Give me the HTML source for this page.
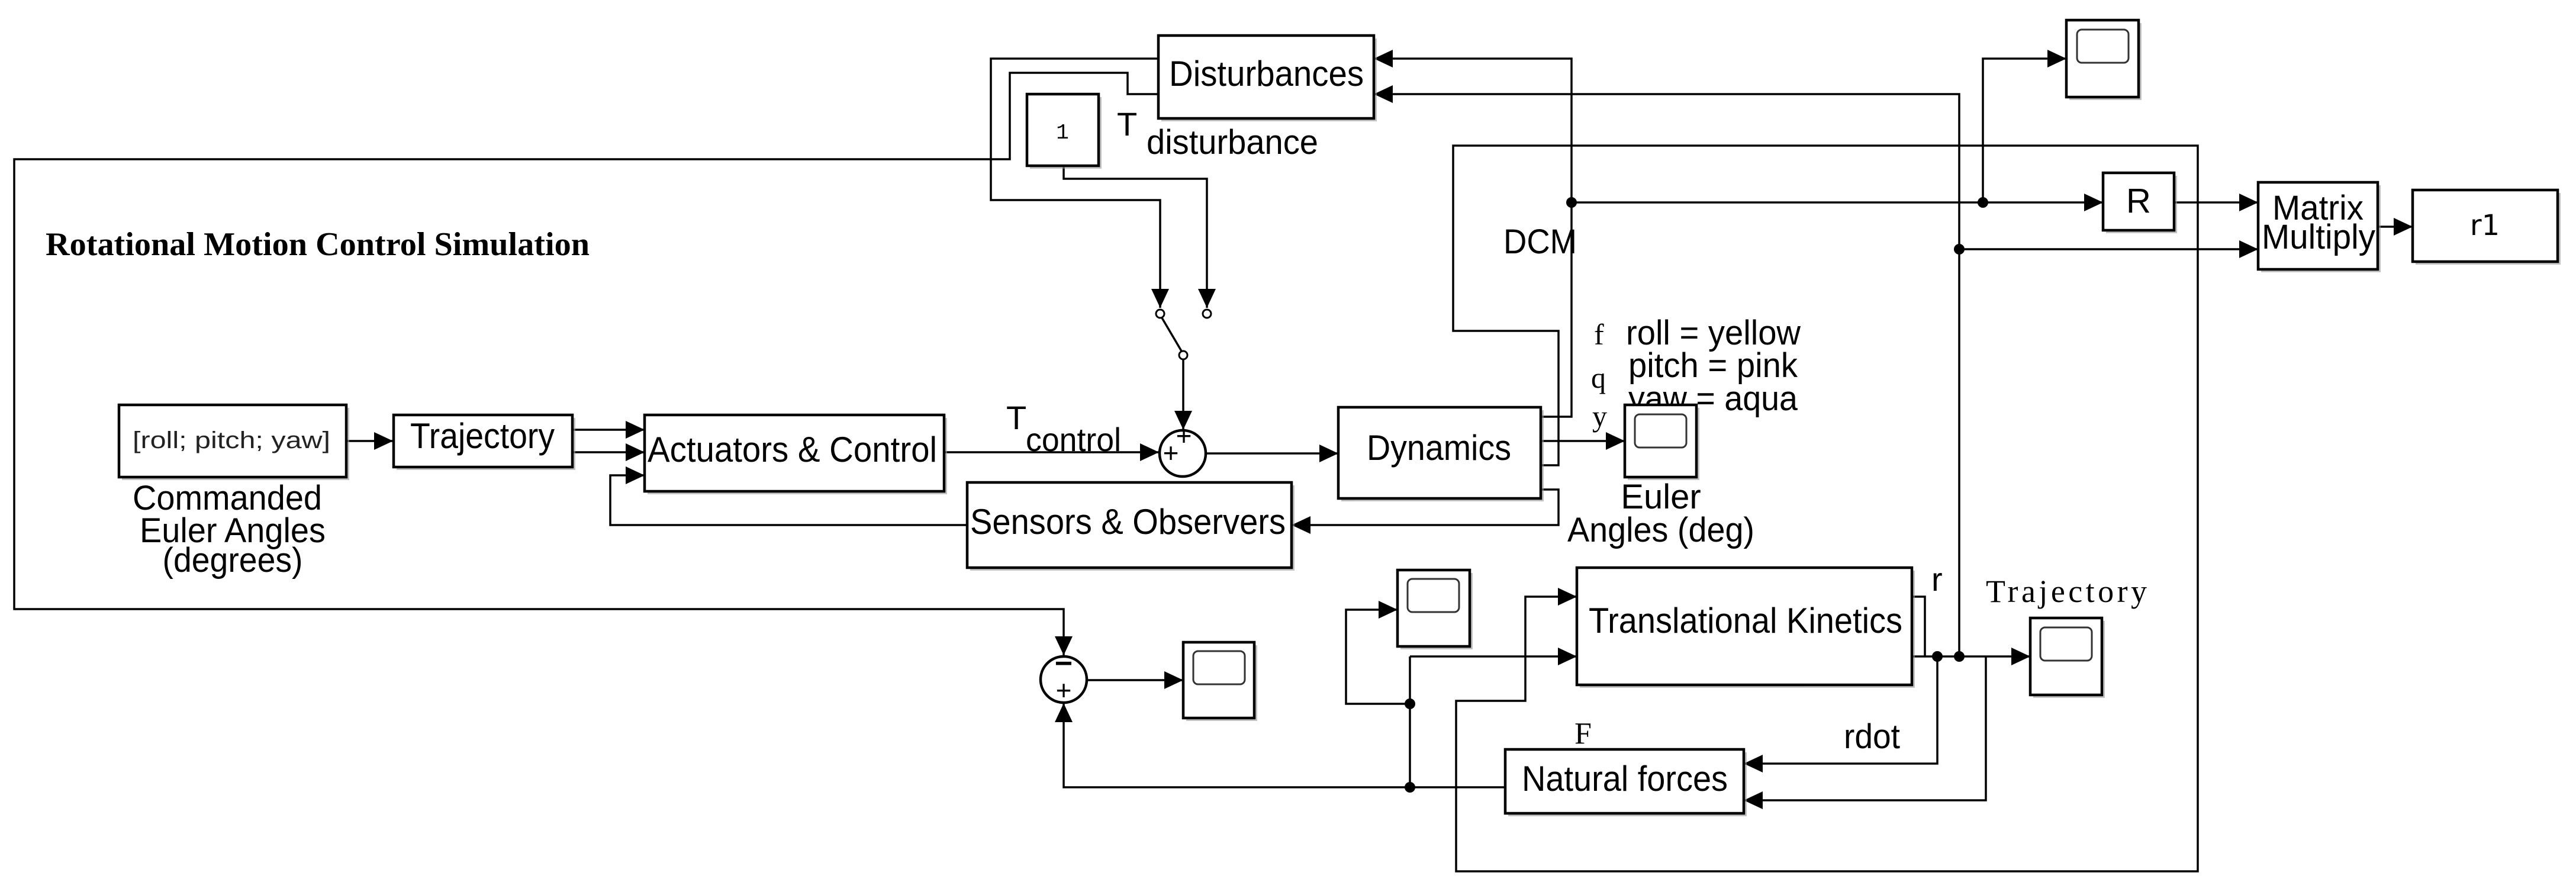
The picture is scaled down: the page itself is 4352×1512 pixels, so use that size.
<!DOCTYPE html>
<html><head><meta charset="utf-8"><style>html,body{margin:0;padding:0;background:#fff}svg{display:block}</style></head>
<body>
<svg width="4352" height="1512" viewBox="0 0 4352 1512" xmlns="http://www.w3.org/2000/svg" font-family="Liberation Sans, sans-serif">
<defs>
<marker id="A" markerWidth="36" markerHeight="36" refX="32" refY="17" orient="auto" markerUnits="userSpaceOnUse">
<path d="M0,2 L32,17 L0,32 z" fill="#000"/>
</marker>
</defs>
<rect width="4352" height="1512" fill="#fff"/>
<g fill="none" stroke="#000" stroke-width="3.5">
<polyline points="1957,99 1674,99 1674,338 1960,338 1960,520" marker-end="url(#A)"/>
<polyline points="1797,280 1797,302 2039,302 2039,520" marker-end="url(#A)"/>
<polyline points="1957,159 1905,159 1905,123 1706,123 1706,269 24,269 24,1029 1797,1029 1797,1107" marker-end="url(#A)"/>
<polyline points="1999,607 1999,726" marker-end="url(#A)"/>
<line x1="1963" y1="537" x2="1996" y2="593"/>
<polyline points="585,745 664,745" marker-end="url(#A)"/>
<polyline points="967,726 1089,726" marker-end="url(#A)"/>
<polyline points="967,764 1089,764" marker-end="url(#A)"/>
<polyline points="1634,887 1031,887 1031,803 1089,803" marker-end="url(#A)"/>
<polyline points="1595,764 1958,764" marker-end="url(#A)"/>
<polyline points="2037,766 2261,766" marker-end="url(#A)"/>
<polyline points="2603,704 2655,704 2655,99 2321,99" marker-end="url(#A)"/>
<polyline points="2655,342 3553,342" marker-end="url(#A)"/>
<polyline points="3350,342 3350,99 3491,99" marker-end="url(#A)"/>
<polyline points="2603,745 2745,745" marker-end="url(#A)"/>
<polyline points="2603,786 2633,786 2633,559 2455,559 2455,246 3713,246 3713,1472 2460,1472 2460,1184 2577,1184 2577,1008 2664,1008" marker-end="url(#A)"/>
<polyline points="2603,827 2633,827 2633,887 2182,887" marker-end="url(#A)"/>
<polyline points="3673,342 3815,342" marker-end="url(#A)"/>
<polyline points="4017,383 4076,383" marker-end="url(#A)"/>
<polyline points="3310,1109 3310,159 2321,159" marker-end="url(#A)"/>
<polyline points="3310,421 3815,421" marker-end="url(#A)"/>
<polyline points="3230,1008 3252,1008 3252,1109"/>
<polyline points="3230,1109 3430,1109" marker-end="url(#A)"/>
<polyline points="3273,1109 3273,1290 2946,1290" marker-end="url(#A)"/>
<polyline points="3355,1109 3355,1352 2946,1352" marker-end="url(#A)"/>
<polyline points="2382,1109 2664,1109" marker-end="url(#A)"/>
<line x1="2382" y1="1109" x2="2382" y2="1330"/>
<polyline points="2382,1189 2274,1189 2274,1030 2361,1030" marker-end="url(#A)"/>
<polyline points="2543,1330 1797,1330 1797,1188" marker-end="url(#A)"/>
<polyline points="1837,1149 1999,1149" marker-end="url(#A)"/>
</g>
<g fill="#000">
<circle cx="2655" cy="342" r="9"/><circle cx="3350" cy="342" r="9"/><circle cx="3310" cy="421" r="9"/>
<circle cx="3310" cy="1109" r="9"/><circle cx="3273" cy="1109" r="9"/><circle cx="2382" cy="1189" r="9"/><circle cx="2382" cy="1330" r="9"/>
</g>
<g fill="#fff" stroke="#000" stroke-width="3">
<circle cx="1960" cy="530" r="7"/><circle cx="2039" cy="530" r="7"/><circle cx="1999" cy="600" r="7"/>
</g>
<g fill="#999" opacity="0.6">
<rect x="1962" y="65" width="364" height="140"/>
<rect x="1740" y="164" width="121" height="121"/>
<rect x="206" y="689" width="384" height="122"/>
<rect x="670" y="706" width="302" height="88"/>
<rect x="1094" y="706" width="506" height="129"/>
<rect x="1639" y="820" width="548" height="144"/>
<rect x="2266" y="693" width="342" height="154"/>
<rect x="3558" y="297" width="120" height="97"/>
<rect x="3820" y="313" width="202" height="147"/>
<rect x="4081" y="326" width="245" height="121"/>
<rect x="2669" y="964" width="566" height="198"/>
<rect x="2548" y="1271" width="403" height="108"/>
<rect x="3496" y="39" width="122" height="130"/>
<rect x="2004" y="1090" width="120" height="128"/>
<rect x="2366" y="968" width="122" height="129"/>
<rect x="3435" y="1049" width="121" height="130"/>
</g>
<g fill="#fff" stroke="#000" stroke-width="4.5">
<rect x="1957" y="60" width="364" height="140"/>
<rect x="1735" y="159" width="121" height="121"/>
<rect x="201" y="684" width="384" height="122"/>
<rect x="665" y="701" width="302" height="88"/>
<rect x="1089" y="701" width="506" height="129"/>
<rect x="1634" y="815" width="548" height="144"/>
<rect x="2261" y="688" width="342" height="154"/>
<rect x="3553" y="292" width="120" height="97"/>
<rect x="3815" y="308" width="202" height="147"/>
<rect x="4076" y="321" width="245" height="121"/>
<rect x="2664" y="959" width="566" height="198"/>
<rect x="2543" y="1266" width="403" height="108"/>
<rect x="3491" y="34" width="122" height="130"/>
<rect x="1999" y="1085" width="120" height="128"/>
<rect x="2361" y="963" width="122" height="129"/>
<rect x="3430" y="1044" width="121" height="130"/>
<circle cx="1998" cy="766" r="39"/>
<circle cx="1797" cy="1148" r="39"/>
</g>
<g fill="#000" font-size="60">
<text x="1975" y="145" textLength="329" lengthAdjust="spacingAndGlyphs">Disturbances</text>
<text x="1795" y="234" font-size="36" font-family="Liberation Mono, monospace" text-anchor="middle">1</text>
<text x="1887" y="229" font-size="56">T</text>
<text x="1937" y="260" textLength="290" lengthAdjust="spacingAndGlyphs" font-size="58">disturbance</text>
<text x="77" y="431" font-family="Liberation Serif, serif" font-weight="bold" font-size="56" textLength="919" lengthAdjust="spacingAndGlyphs">Rotational Motion Control Simulation</text>
<text x="224" y="757" font-size="40" fill="#222" textLength="334" lengthAdjust="spacingAndGlyphs">[roll;  pitch;  yaw]</text>
<text x="693" y="757" textLength="244" lengthAdjust="spacingAndGlyphs">Trajectory</text>
<text x="1094" y="780" textLength="489" lengthAdjust="spacingAndGlyphs">Actuators &amp; Control</text>
<text x="384" y="861" text-anchor="middle" font-size="58" textLength="320" lengthAdjust="spacingAndGlyphs">Commanded</text>
<text x="393" y="916" text-anchor="middle" font-size="58" textLength="314" lengthAdjust="spacingAndGlyphs">Euler Angles</text>
<text x="393" y="966" text-anchor="middle" font-size="58" textLength="237" lengthAdjust="spacingAndGlyphs">(degrees)</text>
<text x="1639" y="902" textLength="533" lengthAdjust="spacingAndGlyphs">Sensors &amp; Observers</text>
<text x="1700" y="725" font-size="56">T</text>
<text x="1733" y="762" textLength="161" lengthAdjust="spacingAndGlyphs" font-size="56">control</text>
<text x="2000" y="752" font-size="46" text-anchor="middle">+</text>
<text x="1978" y="781" font-size="46" text-anchor="middle">+</text>
<text x="1797" y="1138" font-size="52" text-anchor="middle" font-weight="bold">−</text>
<text x="1797" y="1182" font-size="46" text-anchor="middle">+</text>
<text x="2309" y="777" textLength="244" lengthAdjust="spacingAndGlyphs">Dynamics</text>
<text x="2540" y="428" textLength="124" lengthAdjust="spacingAndGlyphs" font-size="58">DCM</text>
<text x="2747" y="582" textLength="295" lengthAdjust="spacingAndGlyphs" font-size="58">roll = yellow</text>
<text x="2751" y="637" textLength="286" lengthAdjust="spacingAndGlyphs" font-size="58">pitch = pink</text>
<text x="2751" y="693" textLength="286" lengthAdjust="spacingAndGlyphs" font-size="58">yaw = aqua</text>
<g font-family="Liberation Serif, serif" font-size="50">
<text x="2693" y="582">f</text><text x="2688" y="655">q</text><text x="2690" y="720">y</text>
</g>
<text x="2806" y="859" text-anchor="middle" font-size="58">Euler</text>
<text x="2648" y="915" textLength="316" lengthAdjust="spacingAndGlyphs" font-size="58">Angles (deg)</text>
<text x="3613" y="359" text-anchor="middle" font-size="58">R</text>
<text x="3839" y="371" textLength="154" lengthAdjust="spacingAndGlyphs" font-size="58">Matrix</text>
<text x="3821" y="420" textLength="192" lengthAdjust="spacingAndGlyphs" font-size="58">Multiply</text>
<text x="4198" y="397" text-anchor="middle" font-size="48" font-family="DejaVu Sans, sans-serif">r1</text>
<text x="2684" y="1069" textLength="530" lengthAdjust="spacingAndGlyphs">Translational Kinetics</text>
<text x="3263" y="998" font-size="56">r</text>
<text x="3355" y="1017" font-family="Liberation Serif, serif" font-size="54" textLength="272" lengthAdjust="spacing">Trajectory</text>
<text x="2660" y="1256" font-family="Liberation Serif, serif" font-size="52">F</text>
<text x="3115" y="1264" textLength="95" lengthAdjust="spacingAndGlyphs" font-size="58">rdot</text>
<text x="2571" y="1336" textLength="348" lengthAdjust="spacingAndGlyphs">Natural forces</text>
</g>
<rect x="2750" y="689" width="121" height="122" fill="#999" opacity="0.6"/>
<rect x="2745" y="684" width="121" height="122" fill="#fff" stroke="#000" stroke-width="4.5"/>
<g fill="#fff" stroke="#333" stroke-width="3">
<rect x="3509" y="50" width="87" height="56" rx="8"/>
<rect x="2762" y="700" width="87" height="56" rx="8"/>
<rect x="2016" y="1100" width="87" height="56" rx="8"/>
<rect x="2378" y="978" width="87" height="56" rx="8"/>
<rect x="3447" y="1060" width="87" height="56" rx="8"/>
</g>
</svg>
</body></html>
